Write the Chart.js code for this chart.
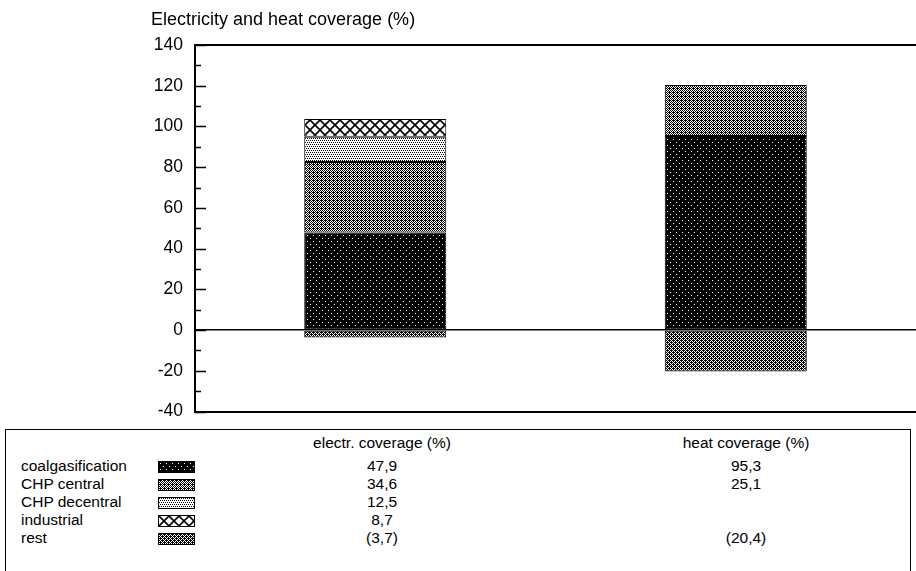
<!DOCTYPE html>
<html>
<head>
<meta charset="utf-8">
<script src="https://cdn.jsdelivr.net/npm/chart.js@4/dist/chart.umd.min.js"></script>
<style>
  body { margin: 0; background: #fff; font-family: "Liberation Sans", Arial, sans-serif; }
  #wrap { position: relative; width: 916px; height: 571px; overflow: hidden; }
  #chart { position: absolute; left: 0; top: 0; }
  #title { position: absolute; left: 151px; top: 9px; font-size: 18px; color: #000; }
  #table { position: absolute; left: 5px; top: 429px; width: 904px; height: 160px; border: 1px solid #000; background: #fff; }
  .cell { position: absolute; font-size: 15.5px; color: #000; white-space: nowrap; line-height: 16px; }
  .sw { position: absolute; border: 1px solid #000; box-sizing: border-box; }
</style>
</head>
<body>
<div id="wrap">
  <canvas id="chart" width="916" height="434"></canvas>
  <div id="title">Electricity and heat coverage (%)</div>
  <div id="table"></div>
</div>
<script>
const categories = ['electr. coverage (%)', 'heat coverage (%)'];
const seriesNames = ['coalgasification', 'CHP central', 'CHP decentral', 'industrial', 'rest'];
const coalgasification = [47.9, 95.3];
const chpCentral = [34.6, 25.1];
const chpDecentral = [12.5, null];
const industrial = [8.7, null];
const rest = [-3.7, -20.4];
const yTicks = { min: -40, max: 140, step: 10, labelStep: 20 };

function makePattern(kind) {
  const c = document.createElement('canvas');
  const g = c.getContext('2d');
  const px = (x, y) => g.fillRect(x, y, 1, 1);
  if (kind === 'coal') {
    c.width = 6; c.height = 6;
    g.fillStyle = '#000'; g.fillRect(0, 0, 6, 6);
    g.fillStyle = '#fff'; px(1, 1); px(4, 4);
  } else if (kind === 'central') {
    c.width = 4; c.height = 4;
    g.fillStyle = '#fff'; g.fillRect(0, 0, 4, 4);
    g.fillStyle = '#000';
    for (let y = 0; y < 4; y++) for (let x = 0; x < 4; x++) if ((x + y) % 2 === 0) px(x, y);
    px(1, 0);
  } else if (kind === 'decentral') {
    c.width = 4; c.height = 4;
    g.fillStyle = '#fff'; g.fillRect(0, 0, 4, 4);
    g.fillStyle = '#000'; px(0, 0); px(2, 0); px(1, 2); px(3, 2);
  } else if (kind === 'industrial') {
    c.width = 10; c.height = 10;
    g.fillStyle = '#fff'; g.fillRect(0, 0, 10, 10);
    g.strokeStyle = '#000'; g.lineWidth = 1.6;
    g.beginPath();
    g.moveTo(-1, -1); g.lineTo(11, 11);
    g.moveTo(11, -1); g.lineTo(-1, 11);
    g.stroke();
  } else {
    c.width = 4; c.height = 4;
    g.fillStyle = '#fff'; g.fillRect(0, 0, 4, 4);
    g.fillStyle = '#000';
    for (let y = 0; y < 4; y++) for (let x = 0; x < 4; x++) if ((x + y) % 2 === 0) px(x, y);
    px(1, 0); px(3, 2);
  }
  return document.getElementById('chart').getContext('2d').createPattern(c, 'repeat');
}

const kinds = ['coal', 'central', 'decentral', 'industrial', 'rest'];
const patterns = kinds.map(makePattern);
const seriesData = [coalgasification, chpCentral, chpDecentral, industrial, rest];

// inward tick marks on the y axis
const inwardTicks = {
  id: 'inwardTicks',
  afterDraw(chart) {
    const y = chart.scales.y;
    const ctx = chart.ctx;
    const left = chart.chartArea.left;
    ctx.save();
    ctx.strokeStyle = '#000';
    ctx.lineWidth = 1.5;
    y.ticks.forEach(t => {
      const py = Math.round(y.getPixelForValue(t.value)) + 0.5;
      const len = t.value % yTicks.labelStep === 0 ? 11 : 6;
      ctx.beginPath();
      ctx.moveTo(left, py);
      ctx.lineTo(left + len, py);
      ctx.stroke();
    });
    ctx.restore();
  }
};

new Chart(document.getElementById('chart'), {
  type: 'bar',
  data: {
    labels: categories,
    datasets: seriesNames.map((name, i) => ({
      label: name,
      data: seriesData[i],
      backgroundColor: patterns[i],
      borderColor: '#000',
      borderWidth: 1,
      borderSkipped: false,
      barPercentage: 0.394,
      categoryPercentage: 1
    }))
  },
  options: {
    responsive: false,
    animation: false,
    layout: { padding: { left: 0, right: 0, top: 45, bottom: 3 } },
    plugins: { legend: { display: false }, tooltip: { enabled: false } },
    scales: {
      x: { stacked: true, display: false },
      y: {
        stacked: true,
        min: yTicks.min,
        max: yTicks.max,
        afterFit(scale) { scale.width = 195; },
        ticks: {
          stepSize: yTicks.step,
          autoSkip: false,
          padding: 12,
          color: '#000',
          font: { family: '"Liberation Sans", Arial, sans-serif', size: 17.5 },
          callback: v => (v % yTicks.labelStep === 0 ? v : '')
        },
        grid: {
          drawTicks: false,
          color: c => ([yTicks.min, 0, yTicks.max].includes(c.tick.value) ? '#000' : 'rgba(0,0,0,0)'),
          lineWidth: c => (c.tick.value === 0 ? 1.5 : 2)
        },
        border: { display: true, color: '#000', width: 2 }
      }
    }
  },
  plugins: [inwardTicks]
});

// data table below the chart
const table = document.getElementById('table');
const colCenters = [376, 740];
function addCell(text, left, top, center) {
  const d = document.createElement('div');
  d.className = 'cell';
  d.textContent = text;
  d.style.top = top + 'px';
  if (center) { d.style.left = (left - 100) + 'px'; d.style.width = '200px'; d.style.textAlign = 'center'; }
  else d.style.left = left + 'px';
  table.appendChild(d);
}
const fmt = v => (v == null ? '' : v < 0 ? '(' + String(-v).replace('.', ',') + ')' : String(v).replace('.', ','));
categories.forEach((c, j) => addCell(c, colCenters[j], 5, true));
seriesNames.forEach((name, i) => {
  const top = 28 + i * 18;
  addCell(name, 15, top, false);
  const sw = document.createElement('canvas');
  sw.className = 'sw';
  sw.width = 35; sw.height = 10;
  sw.style.left = '152px'; sw.style.top = (top + 3) + 'px';
  const g = sw.getContext('2d');
  g.fillStyle = patterns[i];
  g.fillRect(0, 0, 35, 10);
  table.appendChild(sw);
  seriesData[i].forEach((v, j) => addCell(fmt(v), colCenters[j], top, true));
});
</script>
</body>
</html>
